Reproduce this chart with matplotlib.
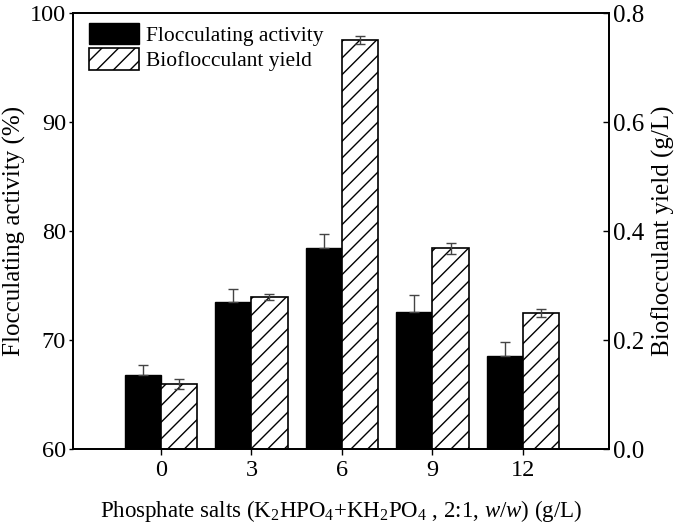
import numpy as np
import matplotlib
matplotlib.use("Agg")
import matplotlib.pyplot as plt

plt.rcParams["font.family"] = "Liberation Serif"
plt.rcParams["mathtext.fontset"] = "custom"
plt.rcParams["mathtext.rm"] = "Liberation Serif"
plt.rcParams["mathtext.it"] = "Liberation Serif:italic"
plt.rcParams["hatch.linewidth"] = 1.0

# data
dosages = ["0", "3", "6", "9", "12"]
activity = [66.8, 73.5, 78.4, 72.6, 68.5]
activity_err = [0.9, 1.2, 1.3, 1.5, 1.3]
yield_gl = [0.119, 0.279, 0.750, 0.368, 0.250]
yield_err = [0.009, 0.005, 0.007, 0.010, 0.007]

x = np.arange(len(dosages))
w = 0.4

fig = plt.figure(figsize=(6.85, 5.31), dpi=100)
ax1 = fig.add_axes([0.1066, 0.1544, 0.7825, 0.8211])
ax2 = ax1.twinx()

ekw = dict(ecolor="#444444", elinewidth=1.0, capthick=1.0)
# black bars: only the upper half of the error bar is visible
b1 = ax1.bar(x - w / 2, activity, w, color="black", edgecolor="black", linewidth=1.0,
             yerr=[[0] * len(activity_err), activity_err], capsize=3.5, error_kw=ekw)
b2 = ax2.bar(x + w / 2, yield_gl, w, color="white", edgecolor="black", linewidth=1.2,
             hatch="//", yerr=yield_err, capsize=3.5, error_kw=ekw)

ax1.set_xlim(-0.97, 4.95)
ax1.set_ylim(60, 100)
ax2.set_ylim(0, 0.8)
ax1.set_yticks([60, 70, 80, 90, 100])
ax2.set_yticks([0.0, 0.2, 0.4, 0.6, 0.8])
ax2.set_yticklabels(["0.0", "0.2", "0.4", "0.6", "0.8"])
ax1.set_xticks(x)
ax1.set_xticklabels(dosages)

for a in (ax1, ax2):
    for s in a.spines.values():
        s.set_linewidth(1.3)
ax1.tick_params(axis="x", direction="out", length=4, width=1.0, labelsize=17.5, pad=4)
ax1.tick_params(axis="y", direction="out", length=3, width=1.0, labelsize=17.5, pad=2)
ax2.tick_params(axis="y", direction="in", length=4, width=1.0, labelsize=18, pad=3)

ax1.set_ylabel("Flocculating activity (%)", fontsize=18, labelpad=3)
ax2.set_ylabel("Bioflocculant yield (g/L)", fontsize=18, labelpad=5)
ax1.set_xlabel("Phosphate salts (K$_2$HPO$_4$+KH$_2$PO$_4$ , 2:1, $w$/$w$) (g/L)",
               fontsize=16.5, labelpad=12)

ax2.legend([b1, b2], ["Flocculating activity", "Bioflocculant yield"], loc="upper left",
           bbox_to_anchor=(0.030, 0.977), frameon=False, fontsize=15.5,
           handlelength=2.3, handleheight=1.15, borderaxespad=0, borderpad=0,
           handletextpad=0.35, labelspacing=0.1)

fig.savefig("out.png", dpi=100)
